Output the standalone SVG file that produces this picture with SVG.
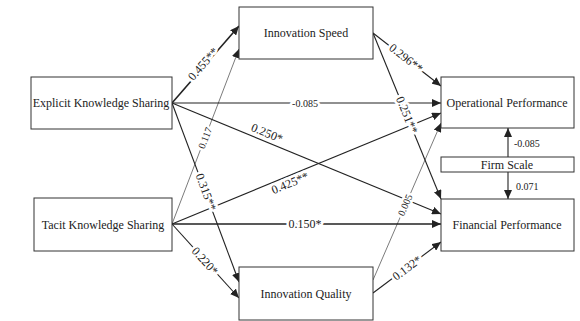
<svg xmlns="http://www.w3.org/2000/svg" width="580" height="321" viewBox="0 0 580 321">
<style>
.box{fill:#fff;stroke:#333;stroke-width:1}
.nt{font-family:"Liberation Serif","Times New Roman",serif;font-size:12px;fill:#222;text-anchor:middle;dominant-baseline:central}
.c{fill:none;stroke:#222;marker-end:url(#ah)}
.thick{stroke-width:1.6}
.med{stroke-width:1.1}
.thin{stroke-width:0.6}
.lb{font-family:"Liberation Serif","Times New Roman",serif;font-size:12px;fill:#222;text-anchor:middle;dominant-baseline:central;stroke:#fff;stroke-width:5;paint-order:stroke;stroke-linejoin:round}
.sm{font-size:10px}
.lt{font-family:"Liberation Serif","Times New Roman",serif;font-size:10px;fill:#222;dominant-baseline:central}
</style>
<defs>
<marker id="ah" markerUnits="userSpaceOnUse" markerWidth="10" markerHeight="8" refX="9" refY="4" orient="auto">
<path d="M0,0 L9,4 L0,8 Z" fill="#222"/>
</marker>
</defs>
<rect width="580" height="321" fill="#fff"/>
<g id="connectors">
<line class="c thick" x1="172" y1="103" x2="239" y2="26"/>
<line class="c thin" x1="172" y1="224" x2="239" y2="49"/>
<line class="c med" x1="172" y1="103" x2="441" y2="103"/>
<line class="c med" x1="172" y1="103" x2="441" y2="214"/>
<line class="c med" x1="172" y1="103" x2="239" y2="282"/>
<line class="c med" x1="172" y1="224" x2="441" y2="113"/>
<line class="c thick" x1="172" y1="224" x2="441" y2="224"/>
<line class="c med" x1="172" y1="224" x2="239" y2="298"/>
<line class="c med" x1="373" y1="33" x2="441" y2="86"/>
<line class="c med" x1="373" y1="33" x2="441" y2="199"/>
<line class="c thin" x1="373" y1="280" x2="441" y2="123"/>
<line class="c med" x1="373" y1="293" x2="441" y2="242"/>
<line class="c med" x1="508" y1="157" x2="508" y2="128"/>
<line class="c med" x1="508" y1="172" x2="508" y2="199"/>
<text class="lb" transform="translate(203,64) rotate(-49)">0.455**</text>
<text class="lb sm" transform="translate(205,138) rotate(-69)">0.117</text>
<text class="lb sm" x="305" y="103">-0.085</text>
<text class="lb" transform="translate(267,133) rotate(22.4)">0.250*</text>
<text class="lb" transform="translate(206,192) rotate(69.5)">0.315**</text>
<text class="lb" transform="translate(290,183) rotate(-22.4)">0.425**</text>
<text class="lb" x="305" y="224">0.150*</text>
<text class="lb" transform="translate(205,261) rotate(47.8)">0.220*</text>
<text class="lb" transform="translate(406,58) rotate(37.9)">0.296**</text>
<text class="lb" transform="translate(407,115) rotate(67.6)">0.251**</text>
<text class="lb sm" transform="translate(405,205) rotate(-66.6)">0.005</text>
<text class="lb" transform="translate(407,268) rotate(-36.9)">0.132*</text>
<text class="lt" x="514" y="143">-0.085</text>
<text class="lt" x="516" y="186">0.071</text>
</g>
<g id="eks"><rect class="box" x="31" y="77" width="141" height="52"/><text class="nt" x="101" y="103">Explicit Knowledge Sharing</text></g>
<g id="tks"><rect class="box" x="34" y="198" width="138" height="53"/><text class="nt" x="103" y="225">Tacit Knowledge Sharing</text></g>
<g id="is"><rect class="box" x="239" y="7" width="134" height="52"/><text class="nt" x="306" y="33">Innovation Speed</text></g>
<g id="iq"><rect class="box" x="239" y="267" width="134" height="53"/><text class="nt" x="306" y="294">Innovation Quality</text></g>
<g id="op"><rect class="box" x="441" y="77" width="133" height="51"/><text class="nt" x="507" y="103">Operational Performance</text></g>
<g id="fs"><rect class="box" x="441" y="157" width="133" height="15"/><text class="nt" x="507" y="165">Firm Scale</text></g>
<g id="fp"><rect class="box" x="441" y="199" width="133" height="52"/><text class="nt" x="507" y="225">Financial Performance</text></g>
</svg>
